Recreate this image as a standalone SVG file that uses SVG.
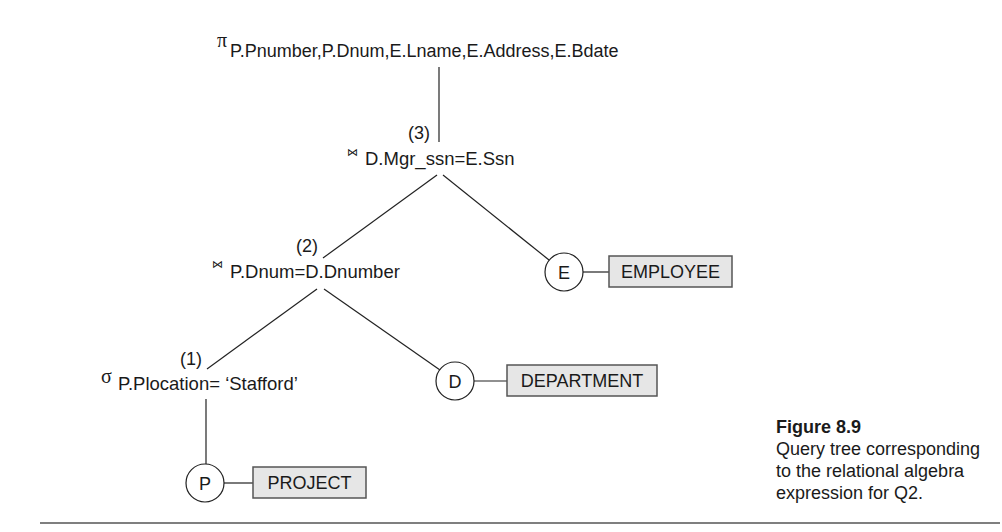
<svg xmlns="http://www.w3.org/2000/svg" width="1002" height="532" viewBox="0 0 1002 532">
<style>
  .t { font-family: "Liberation Sans", Arial, sans-serif; font-size: 18px; fill: #1a1a1a; }
  .op { font-size: 18.5px; }
  .sym { font-family: "Liberation Serif", "Times New Roman", serif; font-size: 20px; fill: #1a1a1a; }
  .bt { font-family: "DejaVu Sans", sans-serif; font-size: 11px; fill: #1a1a1a; }
  .mid { text-anchor: middle; }
  .edge { stroke: #222; stroke-width: 1.2; fill: none; }
  .circ { stroke: #222; stroke-width: 1.2; fill: #fff; }
  .box { stroke: #555; stroke-width: 1.5; fill: #e6e6e6; }
  .cap { font-family: "Liberation Sans", Arial, sans-serif; font-size: 18px; fill: #1a1a1a; }
  .capb { font-family: "Liberation Sans", Arial, sans-serif; font-size: 18px; font-weight: bold; fill: #1a1a1a; }
</style>
<rect width="1002" height="532" fill="#fff"/>
<g id="connectors">
  <line class="edge" x1="439" y1="67" x2="439" y2="142"/>
  <line class="edge" x1="437" y1="175" x2="323" y2="258"/>
  <line class="edge" x1="443" y1="175" x2="549" y2="260"/>
  <line class="edge" x1="317" y1="289" x2="207" y2="369"/>
  <line class="edge" x1="324" y1="289" x2="440" y2="370"/>
  <line class="edge" x1="206" y1="399" x2="206" y2="464"/>
  <line class="edge" x1="583" y1="272" x2="609" y2="272"/>
  <line class="edge" x1="474" y1="381" x2="507" y2="381"/>
  <line class="edge" x1="224" y1="483" x2="253" y2="483"/>
</g>
<g id="project-op">
  <text class="sym" x="217" y="47">π</text>
  <text class="t" x="230" y="57">P.Pnumber,P.Dnum,E.Lname,E.Address,E.Bdate</text>
</g>
<g id="join3">
  <text class="t" x="408" y="139">(3)</text>
  <text class="bt" x="347" y="156">⋈</text>
  <text class="t op" x="365" y="165">D.Mgr_ssn=E.Ssn</text>
</g>
<g id="join2">
  <text class="t" x="296" y="252">(2)</text>
  <text class="bt" x="212" y="268">⋈</text>
  <text class="t op" x="230" y="278">P.Dnum=D.Dnumber</text>
</g>
<g id="select1">
  <text class="t" x="180" y="365">(1)</text>
  <text class="sym" x="101" y="383">σ</text>
  <text class="t op" x="118" y="390">P.Plocation= ‘Stafford’</text>
</g>
<g id="node-E">
  <circle class="circ" cx="564" cy="272" r="19"/>
  <text class="t mid" x="564" y="279">E</text>
</g>
<g id="rel-EMPLOYEE">
  <rect class="box" x="609" y="256" width="123" height="31"/>
  <text class="t mid" x="670.5" y="278">EMPLOYEE</text>
</g>
<g id="node-D">
  <circle class="circ" cx="455" cy="381" r="19"/>
  <text class="t mid" x="455" y="388">D</text>
</g>
<g id="rel-DEPARTMENT">
  <rect class="box" x="507" y="365" width="150" height="31"/>
  <text class="t mid" x="582" y="387">DEPARTMENT</text>
</g>
<g id="node-P">
  <circle class="circ" cx="205" cy="483" r="19"/>
  <text class="t mid" x="205" y="490">P</text>
</g>
<g id="rel-PROJECT">
  <rect class="box" x="253" y="467" width="113" height="31"/>
  <text class="t mid" x="309.5" y="489">PROJECT</text>
</g>
<g id="caption">
  <text class="capb" x="776" y="433">Figure 8.9</text>
  <text class="cap" x="776" y="455">Query tree corresponding</text>
  <text class="cap" x="776" y="477">to the relational algebra</text>
  <text class="cap" x="776" y="499">expression for Q2.</text>
</g>
<line x1="40" y1="523" x2="1000" y2="523" stroke="#555" stroke-width="1.5"/>
</svg>
